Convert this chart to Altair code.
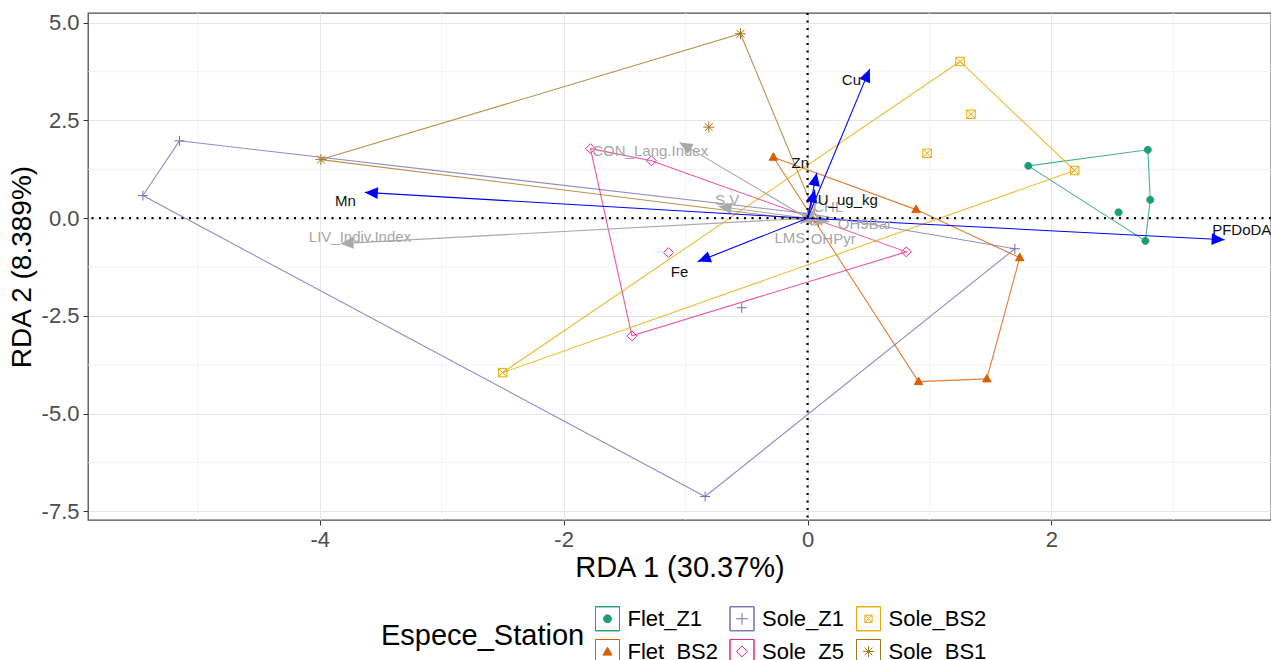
import altair as alt
import pandas as pd
import numpy as np

# ---------------- data ----------------
groups = ["Flet_Z1", "Flet_BS2", "Sole_Z1", "Sole_Z5", "Sole_BS2", "Sole_BS1"]
colors = ["#1B9E77", "#D95F02", "#7570B3", "#E7298A", "#E6AB02", "#A6761D"]

flet_z1_x = [1.81, 2.79, 2.81, 2.55, 2.77]
flet_z1_y = [1.34, 1.75, 0.47, 0.15, -0.58]
flet_z1_hull = [0, 1, 2, 4, 0]

flet_bs2_x = [-0.28, 0.89, 1.74, 1.47, 0.91]
flet_bs2_y = [1.56, 0.22, -1.01, -4.11, -4.18]
flet_bs2_hull = [0, 1, 2, 3, 4, 0]

sole_z1_x = [-5.15, -5.45, -0.84, 1.70, -0.54, 0.00]
sole_z1_y = [1.98, 0.58, -7.12, -0.78, -2.29, 0.12]
sole_z1_hull = [0, 5, 3, 2, 1, 0]

sole_z5_x = [-1.78, -1.28, -1.14, -1.44, 0.81, 0.04]
sole_z5_y = [1.78, 1.47, -0.88, -3.01, -0.86, -0.05]
sole_z5_hull = [0, 1, 4, 3, 0]

sole_bs2_x = [1.25, 1.34, 0.98, 2.19, -2.50]
sole_bs2_y = [4.01, 2.66, 1.66, 1.22, -3.95]
sole_bs2_hull = [0, 3, 4, 0]

sole_bs1_x = [-0.55, -0.81, -3.99, 0.09]
sole_bs1_y = [4.72, 2.33, 1.50, -0.09]
sole_bs1_hull = [2, 0, 3, 2]

env_vars = ["Cu", "Zn", "U_ug_kg", "Mn", "Fe", "PFDoDA"]
env_x = [0.51, 0.075, 0.06, -3.63, -0.90, 3.42]
env_y = [3.82, 1.16, 0.73, 0.66, -1.11, -0.55]
env_lab_x = [0.36, -0.06, 0.33, -3.79, -1.05, 3.56]
env_lab_y = [3.54, 1.41, 0.47, 0.43, -1.37, -0.29]

sup_vars = ["CON_Lang.Index", "LIV_Indiv.Index", "S.V", "CHL", "OH9Bar", "LMS", "OHPyr"]
sup_x = [-1.05, -3.83, -0.73, 0.06, 0.18, -0.06, 0.04]
sup_y = [1.94, -0.65, 0.30, 0.22, -0.09, -0.14, -0.19]
sup_lab_x = [-1.29, -3.67, -0.66, 0.17, 0.47, -0.145, 0.21]
sup_lab_y = [1.71, -0.47, 0.46, 0.29, -0.14, -0.50, -0.52]

x_breaks = [-4, -2, 0, 2]
y_breaks = [-7.5, -5.0, -2.5, 0.0, 2.5, 5.0]

x_title = "RDA 1 (30.37%)"
y_title = "RDA 2 (8.389%)"
legend_title = "Espece_Station"

# ---------------- layout / style ----------------
W, H = 1183, 507
x_dom = [-5.90, 3.80]
y_dom = [-7.72, 5.25]
FONT = "Liberation Sans"

point_paths = [
    "M-0.7,0A0.7,0.7 0 1 1 0.7,0A0.7,0.7 0 1 1 -0.7,0Z",
    "M0,-0.9L0.85,0.6L-0.85,0.6Z",
    "M-1,0H1M0,-1V1",
    "M0,-1L1,0L0,1L-1,0Z",
    "M-0.85,-0.85H0.85V0.85H-0.85ZM-0.85,-0.85L0.85,0.85M-0.85,0.85L0.85,-0.85",
    "M-1.1,0H1.1M0,-1.1V1.1M-0.8,-0.8L0.8,0.8M-0.8,0.8L0.8,-0.8",
]
point_fills = ["#1B9E77", "#D95F02", "transparent", "transparent", "transparent", "transparent"]

box = "M-1,-1H1V1H-1ZM-1,-1V1H1V-1Z"
legend_glyphs = [
    "M-0.33,0A0.33,0.33 0 1 1 0.33,0A0.33,0.33 0 1 1 -0.33,0Z",
    "M0,-0.36L0.38,0.3L-0.38,0.3Z",
    "M-0.5,0H0.5M0,-0.5V0.5",
    "M0,-0.45L0.45,0L0,0.45L-0.45,0Z",
    "M-0.3,-0.3H0.3V0.3H-0.3ZM-0.3,-0.3L0.3,0.3M-0.3,0.3L0.3,-0.3",
    "M-0.45,0H0.45M0,-0.45V0.45M-0.32,-0.32L0.32,0.32M-0.32,0.32L0.32,-0.32",
]

# ---------------- tables ----------------
grp_data = [
    ("Flet_Z1", flet_z1_x, flet_z1_y, flet_z1_hull),
    ("Flet_BS2", flet_bs2_x, flet_bs2_y, flet_bs2_hull),
    ("Sole_Z1", sole_z1_x, sole_z1_y, sole_z1_hull),
    ("Sole_Z5", sole_z5_x, sole_z5_y, sole_z5_hull),
    ("Sole_BS2", sole_bs2_x, sole_bs2_y, sole_bs2_hull),
    ("Sole_BS1", sole_bs1_x, sole_bs1_y, sole_bs1_hull),
]
pts_rows, hull_rows = [], []
for g, xs_, ys_, hull in grp_data:
    for a, b in zip(xs_, ys_):
        pts_rows.append({"grp": g, "x": a, "y": b})
    for k, i in enumerate(hull):
        hull_rows.append({"grp": g, "ord": k, "x": xs_[i], "y": ys_[i]})
pts = pd.DataFrame(pts_rows)
hulls = pd.DataFrame(hull_rows)

sx = W / (x_dom[1] - x_dom[0])
sy = H / (y_dom[1] - y_dom[0])


def arrows(names, ax, ay, lx, ly):
    d = pd.DataFrame({"name": names, "x": ax, "y": ay, "lx": lx, "ly": ly})
    d["x0"] = 0.0
    d["y0"] = 0.0
    d["ang"] = (np.degrees(np.arctan2(d["x"] * sx, d["y"] * sy)) + 360) % 360
    return d


env = arrows(env_vars, env_x, env_y, env_lab_x, env_lab_y)
sup = arrows(sup_vars, sup_x, sup_y, sup_lab_x, sup_lab_y)


def minors(br, step, lo, hi):
    vals = [br[0] - step / 2] + [b + step / 2 for b in br]
    return [v for v in vals if lo <= v <= hi]


x_minor = pd.DataFrame({"v": minors(x_breaks, 2, *x_dom)})
y_minor = pd.DataFrame({"v": minors(y_breaks, 2.5, *y_dom)})
zero = pd.DataFrame({"v": [0.0]})

xs = alt.Scale(domain=x_dom, nice=False, zero=False)
ys = alt.Scale(domain=y_dom, nice=False, zero=False)
x_axis = alt.Axis(values=x_breaks, title=x_title, titleFontSize=29,
                  labelExpr="replace(format(datum.value, 'd'), '\u2212', '-')",
                  tickSize=5, labelPadding=4, titlePadding=3)
y_axis = alt.Axis(values=y_breaks, title=y_title, titleFontSize=28,
                  labelExpr="replace(format(datum.value, '.1f'), '\u2212', '-')",
                  tickSize=5, labelPadding=4, titlePadding=5)


def X(f):
    return alt.X(f"{f}:Q", scale=xs, axis=x_axis)


def Y(f):
    return alt.Y(f"{f}:Q", scale=ys, axis=y_axis)


minor_x = alt.Chart(x_minor).mark_rule(color="#F0F0F0", strokeWidth=0.8).encode(x=X("v"))
minor_y = alt.Chart(y_minor).mark_rule(color="#F0F0F0", strokeWidth=0.8).encode(y=Y("v"))

hull_layer = alt.Chart(hulls).mark_line(strokeWidth=1.1, opacity=0.8).encode(
    x=X("x"), y=Y("y"),
    stroke=alt.Stroke("grp:N", scale=alt.Scale(domain=groups, range=colors), legend=None),
    detail="grp:N", order="ord:Q",
)

point_layer = alt.Chart(pts).mark_point(size=100, strokeWidth=1, opacity=1).encode(
    x=X("x"), y=Y("y"),
    shape=alt.Shape("grp:N", scale=alt.Scale(domain=groups, range=point_paths), legend=None),
    stroke=alt.Stroke("grp:N", scale=alt.Scale(domain=groups, range=colors), legend=None),
    fill=alt.Fill("grp:N", scale=alt.Scale(domain=groups, range=point_fills), legend=None),
)

leg = alt.Legend(
    title=legend_title, orient="none", legendX=293, legendY=593, columns=3,
    titleOrient="left", titleAnchor="middle", titleFont=FONT, titleFontSize=29,
    titleFontWeight="normal", titleColor="black", titlePadding=10, titleLimit=500,
    labelFont=FONT, labelFontSize=22, labelColor="black", labelOffset=7.5, labelLimit=300,
    columnPadding=9.5, rowPadding=4, symbolSize=576, symbolStrokeWidth=1,
    symbolOpacity=1, padding=0,
)
legend_layer = alt.Chart(pts).transform_filter("false").mark_point(size=576, strokeWidth=1, opacity=1).encode(
    x=X("x"), y=Y("y"),
    shape=alt.Shape("grp:N", scale=alt.Scale(domain=groups,
                                             range=[box + g for g in legend_glyphs]), legend=leg),
    stroke=alt.Stroke("grp:N", scale=alt.Scale(domain=groups, range=colors), legend=leg),
    fill=alt.Fill("grp:N", scale=alt.Scale(domain=groups, range=point_fills), legend=leg),
)

arrow_head = "M0,0L-0.45,1L0.45,1Z"


def arrow_layers(d, line_col, text_col):
    base = alt.Chart(d)
    line = base.mark_rule(color=line_col, strokeWidth=1.1).encode(
        x=X("x0"), y=Y("y0"), x2="x:Q", y2="y:Q")
    head = base.mark_point(shape=arrow_head, size=676, filled=True, color=line_col,
                           opacity=1, strokeWidth=0).encode(
        x=X("x"), y=Y("y"), angle=alt.Angle("ang:Q", scale=None))
    text = base.mark_text(font=FONT, fontSize=15, color=text_col).encode(
        x=X("lx"), y=Y("ly"), text="name:N")
    return line, head, text


g_line, g_head, g_text = arrow_layers(sup, "#A9A9A9", "#A6A6A6")
b_line, b_head, b_text = arrow_layers(env, "#0000FF", "#111111")

zero_x = alt.Chart(zero).mark_rule(color="black", strokeWidth=2.2, strokeDash=[2, 5.5]).encode(x=X("v"))
zero_y = alt.Chart(zero).mark_rule(color="black", strokeWidth=2.2, strokeDash=[2, 5.5]).encode(y=Y("v"))

chart = alt.layer(
    minor_x, minor_y, hull_layer, point_layer, legend_layer,
    g_line, g_head, b_line, b_head, g_text, b_text, zero_x, zero_y,
).resolve_scale(
    shape="independent", stroke="independent", fill="independent"
).properties(
    width=W, height=H,
    autosize=alt.AutoSizeParams(type="none"),
    padding={"left": 88, "top": 13, "right": 0, "bottom": 140},
    background="white",
).configure_view(
    stroke="#4D4D4D", strokeWidth=1.3
).configure_axis(
    domain=False, grid=True, gridColor="#E6E6E6", gridWidth=1,
    tickColor="#333333", tickWidth=1,
    labelFont=FONT, labelFontSize=22, labelColor="#4D4D4D",
    titleFont=FONT, titleFontWeight="normal", titleColor="black",
)

chart.save("out.html", embed_options={"renderer": "svg", "actions": False})
